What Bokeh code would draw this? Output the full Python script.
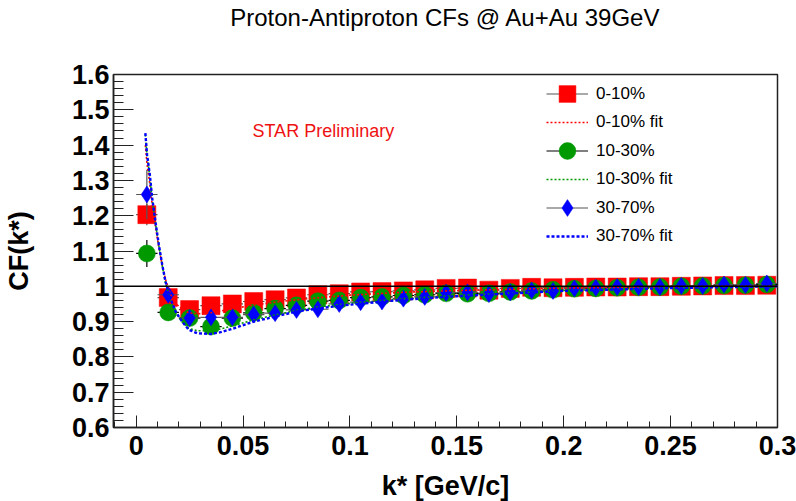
from bokeh.plotting import figure
from bokeh.models import (Span, Label, Legend, LegendItem, FixedTicker,
                          CustomJSTickFormatter, Range1d, Title)
from bokeh.embed import file_html
from bokeh.resources import INLINE

# ---------------- data ----------------
k = [0.005, 0.015, 0.025, 0.035, 0.045, 0.055, 0.065, 0.075, 0.085, 0.095,
     0.105, 0.115, 0.125, 0.135, 0.145, 0.155, 0.165, 0.175, 0.185, 0.195,
     0.205, 0.215, 0.225, 0.235, 0.245, 0.255, 0.265, 0.275, 0.285, 0.295]
bin_half = 0.005

cf_0_10 = [1.203, 0.968, 0.934, 0.945, 0.950, 0.957, 0.962, 0.967, 0.976, 0.979,
           0.984, 0.985, 0.987, 0.990, 0.994, 0.995, 0.989, 0.994, 0.997, 0.996,
           0.997, 0.998, 0.998, 0.999, 0.999, 1.000, 1.001, 1.002, 1.002, 1.003]
err_0_10 = [0.030, 0.010, 0.007, 0.006, 0.005, 0.005, 0.004, 0.004, 0.004, 0.004,
            0.004, 0.003, 0.003, 0.003, 0.003, 0.003, 0.003, 0.003, 0.003, 0.003,
            0.003, 0.003, 0.003, 0.003, 0.003, 0.003, 0.003, 0.003, 0.003, 0.003]

cf_10_30 = [1.093, 0.926, 0.910, 0.886, 0.910, 0.925, 0.937, 0.946, 0.958, 0.960,
            0.968, 0.970, 0.974, 0.976, 0.980, 0.979, 0.980, 0.984, 0.987, 0.990,
            0.993, 0.994, 0.996, 0.997, 0.998, 1.000, 1.001, 1.002, 1.003, 1.005]
err_10_30 = [0.038, 0.012, 0.008, 0.007, 0.006, 0.005, 0.005, 0.005, 0.004, 0.004,
             0.004, 0.004, 0.004, 0.004, 0.004, 0.004, 0.004, 0.004, 0.004, 0.004,
             0.004, 0.004, 0.004, 0.004, 0.004, 0.004, 0.004, 0.004, 0.004, 0.004]

cf_30_70 = [1.260, 0.976, 0.910, 0.912, 0.912, 0.920, 0.924, 0.933, 0.935, 0.950,
            0.955, 0.957, 0.965, 0.970, 0.982, 0.983, 0.978, 0.983, 0.988, 0.987,
            0.994, 0.996, 0.998, 0.998, 0.998, 1.001, 1.001, 1.005, 1.004, 1.008]
err_30_70 = [0.070, 0.016, 0.010, 0.009, 0.008, 0.007, 0.007, 0.006, 0.006, 0.006,
             0.006, 0.006, 0.006, 0.006, 0.006, 0.006, 0.006, 0.006, 0.006, 0.006,
             0.006, 0.006, 0.006, 0.006, 0.006, 0.006, 0.006, 0.006, 0.006, 0.006]

fit_k = [0.0043, 0.0051, 0.0064, 0.0075, 0.009, 0.0106, 0.0122, 0.0137, 0.016,
         0.0184, 0.0215, 0.0246, 0.0285, 0.0348, 0.0395, 0.0457, 0.055, 0.065,
         0.0753, 0.086, 0.1, 0.125, 0.15, 0.2, 0.25, 0.3]
fit_0_10 = [1.400, 1.345, 1.290, 1.230, 1.170, 1.110, 1.060, 1.020, 0.978,
            0.952, 0.935, 0.925, 0.922, 0.925, 0.930, 0.937, 0.947, 0.955,
            0.962, 0.968, 0.975, 0.983, 0.988, 0.995, 0.999, 1.001]
fit_10_30 = [1.430, 1.370, 1.310, 1.245, 1.180, 1.115, 1.058, 1.010, 0.962,
             0.927, 0.899, 0.881, 0.874, 0.874, 0.879, 0.889, 0.905, 0.919,
             0.932, 0.942, 0.952, 0.965, 0.974, 0.988, 0.996, 1.000]
fit_30_70 = [1.434, 1.373, 1.316, 1.250, 1.184, 1.118, 1.061, 1.014, 0.966,
             0.929, 0.900, 0.877, 0.867, 0.865, 0.870, 0.881, 0.900, 0.914,
             0.929, 0.938, 0.948, 0.962, 0.972, 0.987, 0.995, 1.000]

labels = ["0-10%", "10-30%", "30-70%"]
title_text = "Proton-Antiproton CFs @ Au+Au 39GeV"
x_major = [0, 0.05, 0.1, 0.15, 0.2, 0.25, 0.3]
y_major = [0.6, 0.7, 0.8, 0.9, 1.0, 1.1, 1.2, 1.3, 1.4, 1.5, 1.6]
x_minor = [round(-0.01 + 0.01 * i, 3) for i in range(32)]
y_minor = [round(0.6 + 0.02 * i, 3) for i in range(51)]

# ---------------- figure ----------------
FONT = "Liberation Sans"
p = figure(frame_width=664, frame_height=353,
           min_border_left=113, min_border_right=19,
           min_border_top=73, min_border_bottom=75,
           x_range=Range1d(-0.0106, 0.3), y_range=Range1d(0.6, 1.6),
           output_backend="svg", toolbar_location=None)
p.xgrid.visible = False
p.ygrid.visible = False
p.outline_line_color = "#222222"
p.outline_line_width = 1.5
p.outline_line_alpha = 1.0
p.background_fill_color = "white"
p.border_fill_color = "white"

p.title.text = title_text
p.title.align = "center"
p.title.vertical_align = "top"
p.title.text_font = FONT
p.title.text_font_size = "24px"
p.title.text_font_style = "normal"
p.title.text_color = "black"
p.title.standoff = 6

# empty spacer between the title and the frame
p.add_layout(Title(text=" ", text_font_size="1px", standoff=36), "above")

fmt = CustomJSTickFormatter(code="return String(Math.round(tick*1000)/1000);")
p.xaxis.ticker = FixedTicker(ticks=x_major, minor_ticks=x_minor)
p.yaxis.ticker = FixedTicker(ticks=y_major, minor_ticks=y_minor)
for ax in (p.xaxis[0], p.yaxis[0]):
    ax.formatter = fmt
    ax.major_tick_out = 0
    ax.minor_tick_out = 0
    ax.axis_line_color = "#222222"
    ax.axis_line_width = 1.5
    ax.major_tick_line_color = "#222222"
    ax.minor_tick_line_color = "#222222"
    ax.major_label_text_font = FONT
    ax.major_label_text_font_style = "bold"
    ax.major_label_text_font_size = "27px"
    ax.major_label_text_color = "black"
    ax.major_label_text_line_height = 1.0
    ax.axis_label_text_font = FONT
    ax.axis_label_text_font_style = "bold"
    ax.axis_label_text_font_size = "27px"
    ax.axis_label_text_color = "black"
    ax.axis_label_text_line_height = 1.0
p.xaxis.major_tick_in = 12
p.xaxis.minor_tick_in = 6
p.yaxis.major_tick_in = 20
p.yaxis.minor_tick_in = 10
p.xaxis.major_label_standoff = 8
p.yaxis.major_label_standoff = 4
p.xaxis.axis_label = "k* [GeV/c]"
p.yaxis.axis_label = "CF(k*)"
p.xaxis.axis_label_standoff = 13
p.yaxis.axis_label_standoff = 35

p.add_layout(Span(location=1.0, dimension="width", line_color="black", line_width=1.5))

series = [
    (cf_0_10, err_0_10, "red", "square", 18, "#555555"),
    (cf_10_30, err_10_30, "#009900", "circle", 17, "black"),
    (cf_30_70, err_30_70, "blue", "diamond", 17, "#555555"),
]
point_renderers = []
for vals, errs, col, mk, sz, ecol in series:
    x0 = [a - bin_half for a in k]
    x1 = [a + bin_half for a in k]
    xe = p.segment(x0=x0, y0=vals, x1=x1, y1=vals, line_color=ecol, line_width=1.2)
    lo = [v - e for v, e in zip(vals, errs)]
    hi = [v + e for v, e in zip(vals, errs)]
    p.segment(x0=k, y0=lo, x1=k, y1=hi, line_color=ecol, line_width=1.2)
    sc = p.scatter(k, vals, marker=mk, size=sz, fill_color=col, line_color=col, line_width=0.5)
    point_renderers.append((xe, sc))

fit_renderers = []
for fv, col, lw, dash in [(fit_0_10, "#ff0000", 1.6, "2 2"),
                          (fit_10_30, "#009900", 1.6, "2 2"),
                          (fit_30_70, "blue", 2.4, "3 2")]:
    fit_renderers.append(p.line(fit_k, fv, line_color=col, line_width=lw, line_dash=dash))

marker_items = [LegendItem(label=lab, renderers=[xe, sc])
                for lab, (xe, sc) in zip(labels, point_renderers)]
fit_items = [LegendItem(label=lab + " fit", renderers=[fr])
             for lab, fr in zip(labels, fit_renderers)]

legend_common = dict(label_standoff=8, padding=0, margin=0,
                     border_line_alpha=0, background_fill_alpha=0,
                     label_text_font=FONT, label_text_font_size="17px",
                     label_text_color="black", glyph_width=42)
legend_a = Legend(items=marker_items, location=(433, 197), glyph_height=45,
                  spacing=12, **legend_common)
legend_b = Legend(items=fit_items, location=(433, 177), glyph_height=28,
                  spacing=29, **legend_common)
p.add_layout(legend_a)
p.add_layout(legend_b)

p.add_layout(Label(x=0.0544, y=1.44, text="STAR Preliminary", text_color="#ee1111",
                   text_font=FONT, text_font_size="18px", text_baseline="middle"))

open("out.html", "w").write(file_html(p, INLINE))
